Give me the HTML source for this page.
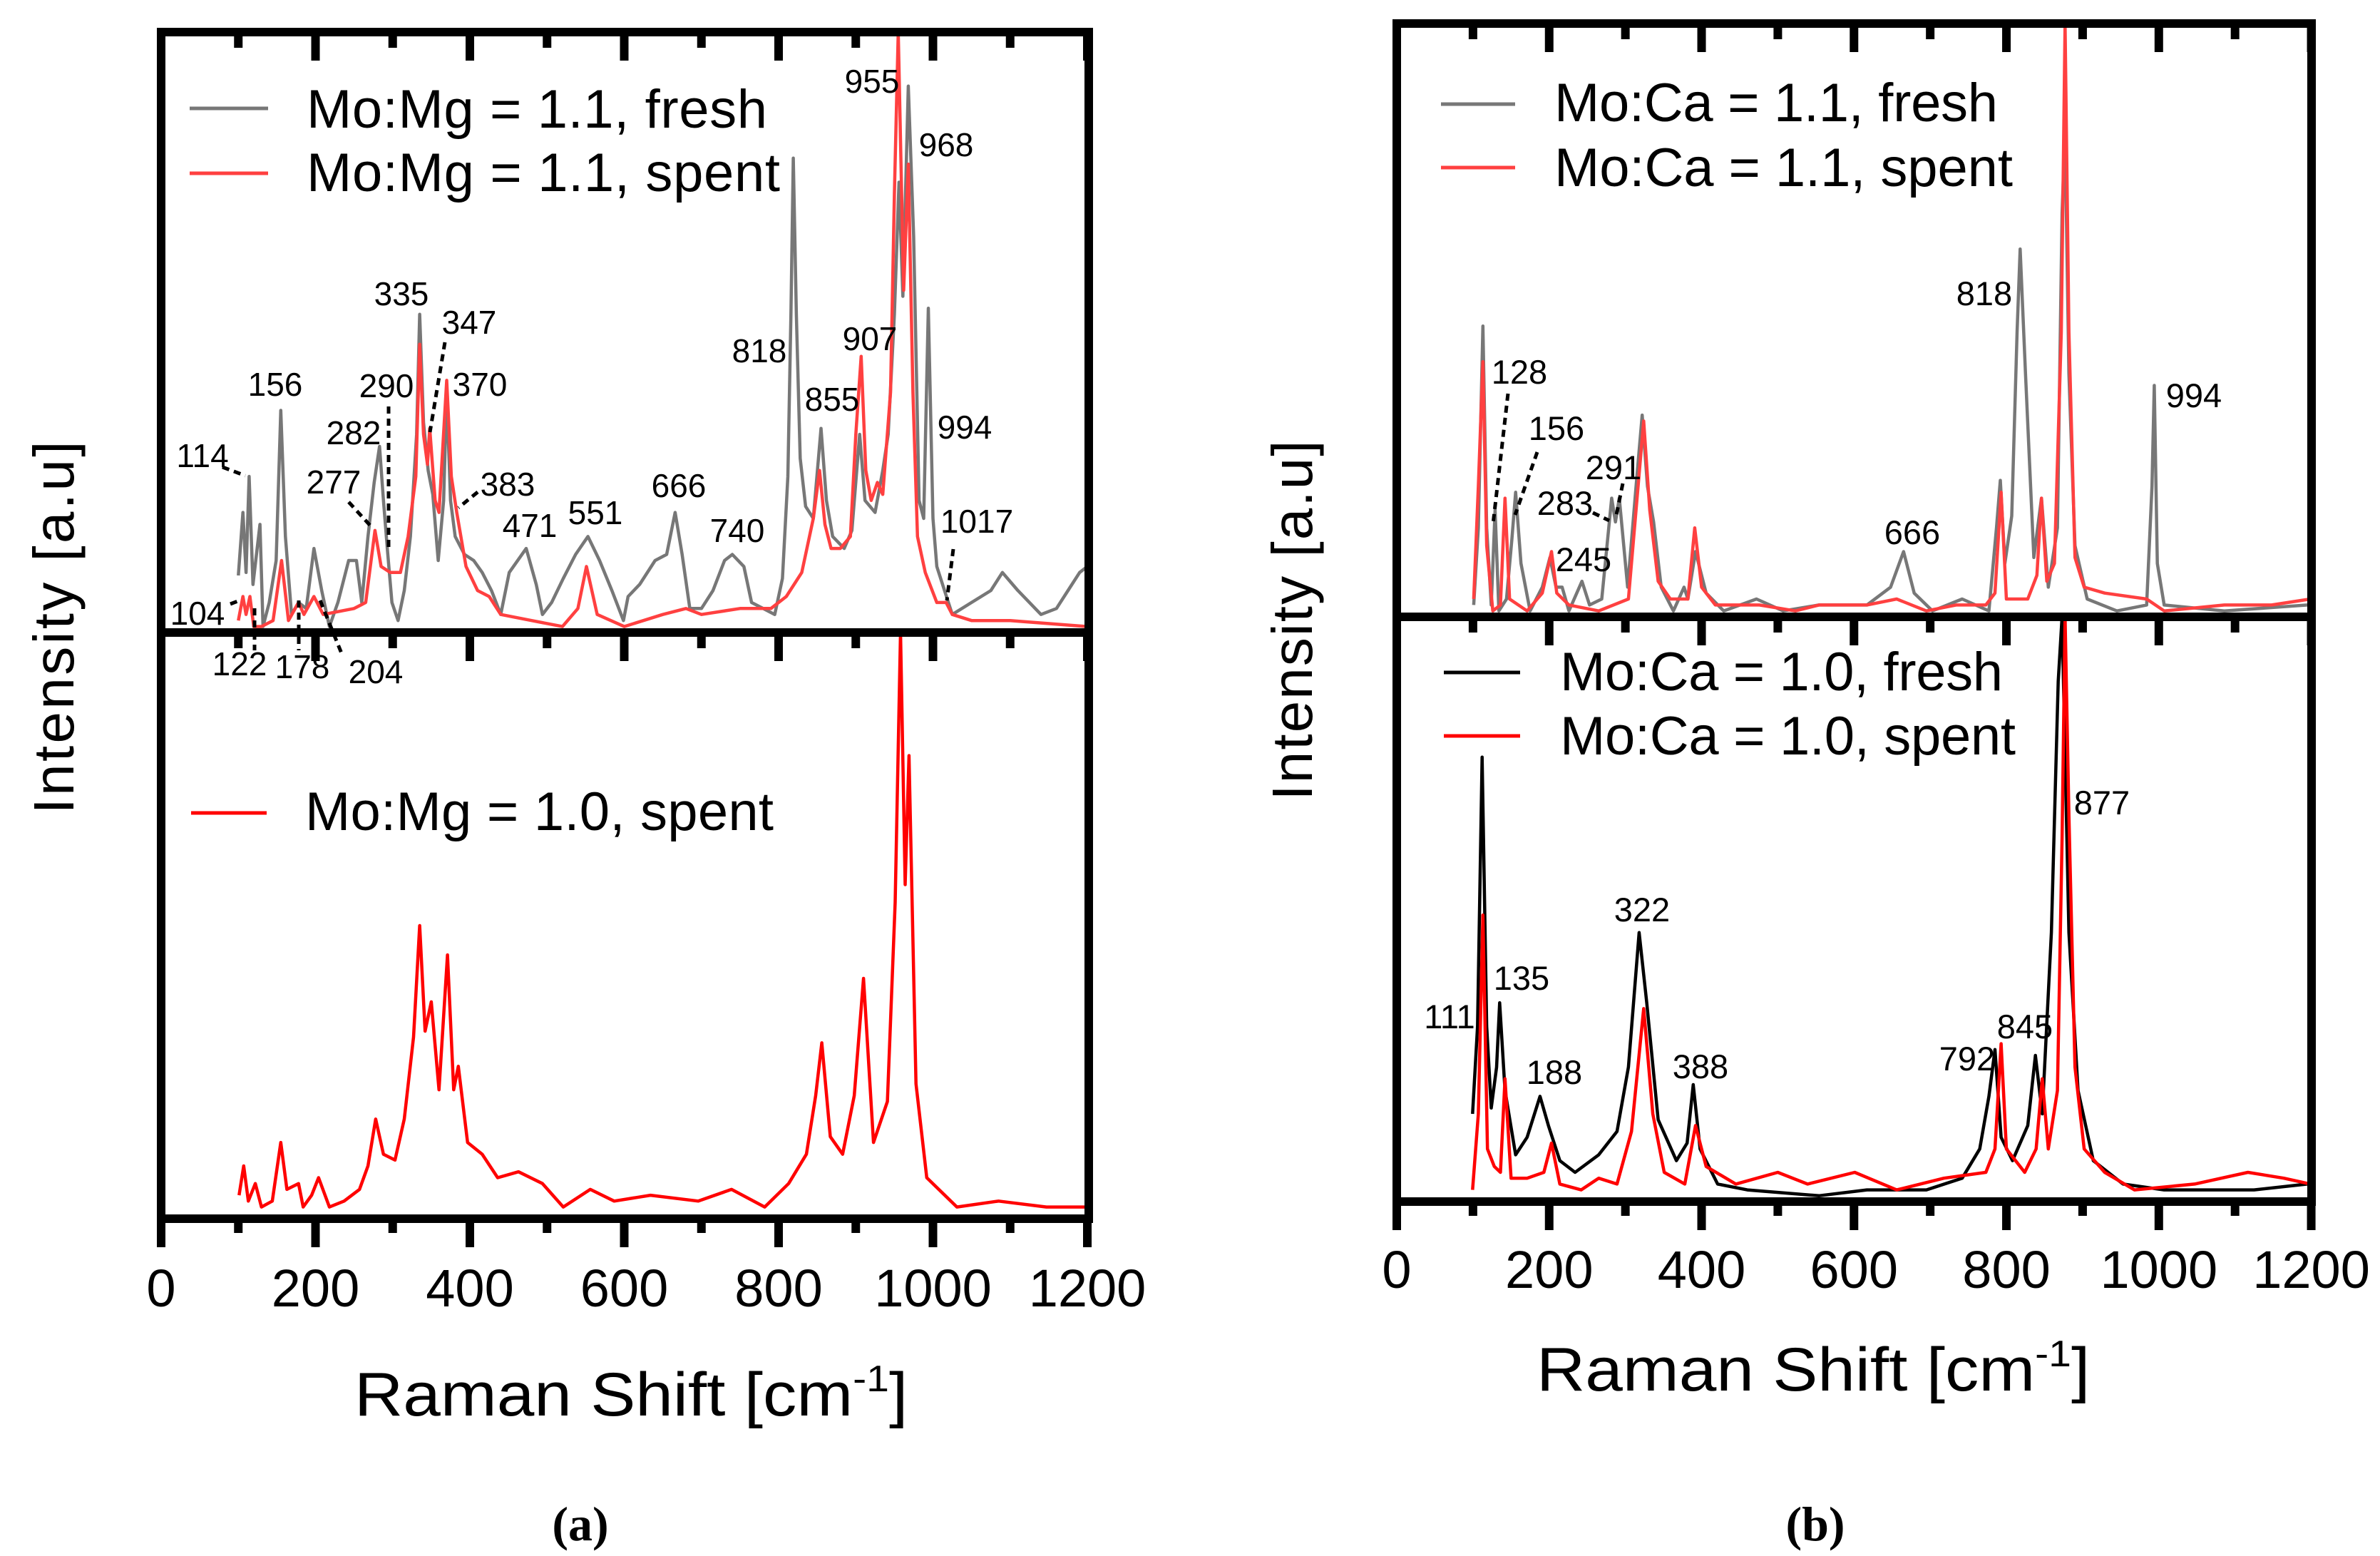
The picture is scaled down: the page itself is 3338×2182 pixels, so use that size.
<!DOCTYPE html>
<html><head><meta charset="utf-8"><style>
html,body{margin:0;padding:0;background:#fff;}
svg{display:block;}
text{font-family:"Liberation Sans",Arial,sans-serif;fill:#000;}
</style></head><body>
<svg id="fig" xmlns="http://www.w3.org/2000/svg" width="3338" height="2182" viewBox="0 0 3338 2182">
<rect x="0" y="0" width="3338" height="2182" fill="#fff"/>
<g id="series-layer"></g>
<g id="axes-layer"></g>
<g id="annot-layer" font-size="46">
  <g stroke="#000" stroke-width="5" stroke-dasharray="10,7" fill="none">
    <line x1="312" y1="655" x2="344" y2="667"/>
    <line x1="323" y1="847" x2="336" y2="842"/>
    <line x1="357" y1="853" x2="357" y2="912"/>
    <line x1="419" y1="842" x2="419" y2="912"/>
    <line x1="449" y1="842" x2="479" y2="916"/>
    <line x1="489" y1="704" x2="523" y2="741"/>
    <line x1="545" y1="570" x2="545" y2="773"/>
    <line x1="624" y1="480" x2="603" y2="606"/>
    <line x1="670" y1="690" x2="643" y2="712"/>
    <line x1="1337" y1="770" x2="1328" y2="842"/>
    <line x1="2115" y1="552" x2="2094" y2="735"/>
    <line x1="2156" y1="634" x2="2125" y2="722"/>
    <line x1="2234" y1="719" x2="2257" y2="730"/>
    <line x1="2276" y1="678" x2="2267" y2="722"/>
  </g>
  <g text-anchor="middle">
    <text x="284" y="655">114</text>
    <text x="386" y="555">156</text>
    <text x="496" y="623">282</text>
    <text x="468" y="692">277</text>
    <text x="542" y="557">290</text>
    <text x="563" y="428">335</text>
    <text x="658" y="468">347</text>
    <text x="673" y="555">370</text>
    <text x="712" y="695">383</text>
    <text x="743" y="753">471</text>
    <text x="835" y="735">551</text>
    <text x="277" y="876">104</text>
    <text x="336" y="947">122</text>
    <text x="424" y="951">178</text>
    <text x="527" y="958">204</text>
    <text x="1223" y="130">955</text>
    <text x="1327" y="219">968</text>
    <text x="1065" y="508">818</text>
    <text x="1220" y="491">907</text>
    <text x="1167" y="576">855</text>
    <text x="1353" y="615">994</text>
    <text x="952" y="697">666</text>
    <text x="1034" y="760">740</text>
    <text x="1370" y="747">1017</text>
  </g>
  <g text-anchor="middle" font-size="47">
    <text x="2131" y="538">128</text>
    <text x="2183" y="617">156</text>
    <text x="2263" y="672">291</text>
    <text x="2195" y="722">283</text>
    <text x="2221" y="801">245</text>
    <text x="2682" y="763">666</text>
    <text x="2783" y="428">818</text>
    <text x="3077" y="571">994</text>
    <text x="2033" y="1442">111</text>
    <text x="2134" y="1388">135</text>
    <text x="2180" y="1520">188</text>
    <text x="2303" y="1292">322</text>
    <text x="2385" y="1512">388</text>
    <text x="2759" y="1501">792</text>
    <text x="2840" y="1456">845</text>
    <text x="2948" y="1142">877</text>
  </g>
</g>
<g font-size="76">
  <line x1="266" y1="152" x2="376" y2="152" stroke="#777" stroke-width="5"/>
  <text x="430" y="179" textLength="646">Mo:Mg = 1.1, fresh</text>
  <line x1="266" y1="243" x2="376" y2="243" stroke="#ff4040" stroke-width="5"/>
  <text x="430" y="268" textLength="664">Mo:Mg = 1.1, spent</text>
</g>
<g font-size="76">
  <line x1="268" y1="1140" x2="374" y2="1140" stroke="#ff0000" stroke-width="5"/>
  <text x="428" y="1164" textLength="657">Mo:Mg = 1.0, spent</text>
</g>
<g font-size="76">
  <line x1="2021" y1="146" x2="2125" y2="146" stroke="#777" stroke-width="5"/>
  <text x="2180" y="170" textLength="622">Mo:Ca = 1.1, fresh</text>
  <line x1="2021" y1="235" x2="2125" y2="235" stroke="#ff4040" stroke-width="5"/>
  <text x="2180" y="261" textLength="643">Mo:Ca = 1.1, spent</text>
</g>
<g font-size="76">
  <line x1="2025" y1="943" x2="2132" y2="943" stroke="#000" stroke-width="5"/>
  <text x="2188" y="968" textLength="621">Mo:Ca = 1.0, fresh</text>
  <line x1="2025" y1="1032" x2="2132" y2="1032" stroke="#ff0000" stroke-width="5"/>
  <text x="2188" y="1058" textLength="639">Mo:Ca = 1.0, spent</text>
</g>
<text transform="translate(103,880) rotate(-90)" text-anchor="middle" font-size="80" textLength="523">Intensity [a.u]</text>
<text transform="translate(1840,870) rotate(-90)" text-anchor="middle" font-size="80" textLength="505">Intensity [a.u]</text>
<g transform="translate(497,1985) scale(1.1,1)">
  <text x="0" y="0" font-size="86">Raman Shift [cm<tspan font-size="52" dy="-34">-1</tspan><tspan dy="34">]</tspan></text>
</g>
<g transform="translate(2155,1950) scale(1.1,1)">
  <text x="0" y="0" font-size="86">Raman Shift [cm<tspan font-size="52" dy="-34">-1</tspan><tspan dy="34">]</tspan></text>
</g>
<text x="814" y="2160" text-anchor="middle" font-size="68" font-weight="bold" style="font-family:'Liberation Serif',serif">(a)</text>
<text x="2546" y="2160" text-anchor="middle" font-size="68" font-weight="bold" style="font-family:'Liberation Serif',serif">(b)</text>
</svg>
<script>
// ---- data (Raman shift in cm-1, intensity in % of sub-panel height) ----
const xTicks = [0, 200, 400, 600, 800, 1000, 1200];
const xTickLabels = ["0", "200", "400", "600", "800", "1000", "1200"];
const xMinorTicks = [100, 300, 500, 700, 900, 1100];

const mg11FreshX = [100,106,110,114,119,128,132,140,149,155,161,169,178,188,198,208,218,229,243,253,260,268,276,283,288,293,299,307,315,323,331,335,340,346,352,359,366,370,375,381,393,405,416,428,440,451,473,486,494,506,521,537,553,568,584,599,605,620,640,655,666,675,685,700,715,730,740,755,765,780,795,805,812,816,819,823,828,835,845,855,862,870,885,895,905,912,925,935,942,950,956,961,968,975,982,988,994,1000,1005,1015,1025,1050,1075,1090,1110,1140,1160,1175,1190,1200];
const mg11FreshY = [9.5,20,10,26,8,18,1,5,12,37,16,3,5,4,14,7,1,5,12,12,5,16,25,31,22,14,5,2,7,16,33,53,35,27,23,12,22,40,22,16,13,12,10,7,3,10,14,8,3,5,9,13,16,12,7,2,6,8,12,13,20,13,4,4,7,12,13,11,5,4,3,9,26,53,79,53,29,21,19,34,22,16,14,17,33,22,20,27,33,53,75,56,91,66,22,19,54,19,11,7,3,5,7,10,7,3,4,7,10,11];

const mg11SpentX = [100,106,110,115,120,130,145,156,165,178,185,198,210,250,265,277,285,297,310,320,330,335,340,345,348,355,360,370,376,383,395,410,425,440,480,520,540,551,565,600,650,680,700,750,790,810,830,845,853,860,868,880,893,900,907,913,920,928,935,945,950,955,962,968,974,980,990,1005,1017,1025,1050,1100,1200];
const mg11SpentY = [2,6,3,6,1,1,2,12,2,5,3,6,3,4,5,17,11,10,10,16,26,48,33,28,34,22,20,42,26,20,11,7,6,3,2,1,4,11,3,1,3,4,3,4,4,6,10,19,27,18,14,14,16,33,46,27,22,25,23,40,73,100,57,78,40,16,10,5,5,3,2,2,1];

const mg10SpentX = [101,107,113,122,130,144,155,163,178,184,195,204,218,237,257,268,278,288,303,315,327,335,342,350,360,371,379,385,397,416,436,463,494,521,556,587,634,696,739,782,813,836,848,856,867,883,898,910,923,941,951,958,964,969,978,992,1031,1085,1147,1200];
const mg10SpentY = [4,9,3,6,2,3,13,5,6,2,4,7,2,3,5,9,17,11,10,17,31,50,32,37,22,45,22,26,13,11,7,8,6,2,5,3,4,3,5,2,6,11,21,30,14,11,21,41,13,20,54,100,57,79,23,7,2,3,2,2];

const ca11FreshX = [101,107,113,118,124,129,134,144,151,156,163,175,191,201,209,217,226,243,253,269,282,287,292,303,314,322,329,337,347,363,377,382,392,406,429,472,507,554,617,648,665,679,703,742,777,787,792,798,807,814,818,825,836,846,855,867,873,877,882,890,906,945,984,991,994,998,1007,1086,1195];
const ca11FreshY = [2,15,49,15,2,18,1,3,13,21,9,1,5,10,5,5,1,6,2,3,20,16,20,5,22,34,22,16,5,1,5,3,11,4,1,3,1,2,2,5,11,4,1,3,1,15,23,9,17,48,62,41,10,20,5,15,68,82,41,12,3,1,2,22,39,9,2,1,2];

const ca11SpentX = [101,107,113,118,126,136,142,148,171,191,203,210,226,265,304,314,324,332,343,359,382,391,400,418,476,523,554,617,656,695,734,773,785,793,800,828,840,846,853,863,872,877,882,890,902,929,984,1007,1086,1148,1199];
const ca11SpentY = [3,22,43,12,1,2,20,3,1,4,11,4,2,1,3,18,33,18,6,3,3,15,5,2,2,1,2,2,3,1,2,2,4,21,3,3,7,20,6,9,48,100,48,10,5,4,3,1,2,2,3];

const ca10FreshX = [99.5,106,112,118,124,131,135,142,156,171,188,199,214,234,265,289,304,318,328,343,367,381,389,398,421,460,554,617,695,742,765,777,785,793,808,828,838,847,859,868,873,882,894,914,953,1007,1125,1195];
const ca10FreshY = [15,30,76,30,16,23,34,19,8,11,18,13,7,5,8,12,23,46,34,14,7,10,20,9,3,2,1,2,2,4,9,18,26,11,7,13,25,15,46,89,100,46,19,7,3,2,2,3];

const ca10SpentX = [99.5,107,113,119,128,136,142,150,171,193,203,214,242,265,289,308,324,336,351,378,392,406,445,500,539,601,656,718,773,785,793,800,824,839,847,855,867,873,877,882,890,902,929,968,1047,1117,1164,1199];
const ca10SpentY = [2,15,49,9,6,5,21,4,4,5,10,3,2,4,3,12,33,15,5,3,13,6,3,5,3,5,2,4,5,9,27,9,5,9,21,9,19,62,100,66,23,9,5,2,3,5,4,3];

// ---- geometry ----
const NS = "http://www.w3.org/2000/svg";
const panels = {
  a: {x0: 226, x1: 1527, sx: 1.0825, top: 45, mid: 887, bot: 1709, tickLabelY: 1832},
  b: {x0: 1959, x1: 3242, sx: 1.0688, top: 33, mid: 865, bot: 1685, tickLabelY: 1806}
};
function xScale(p, v) { return p.x0 + v * p.sx; }
function yScale(top, bot, v) { return bot - (v / 100) * (bot - top); }

const seriesLayer = document.getElementById('series-layer');
const axesLayer = document.getElementById('axes-layer');

function drawSeries(name, p, top, bot, xs, ys, color) {
  const pts = [];
  for (let i = 0; i < xs.length; i++) {
    pts.push(xScale(p, xs[i]).toFixed(1) + ',' + yScale(top, bot, ys[i]).toFixed(1));
  }
  const pl = document.createElementNS(NS, 'polyline');
  pl.setAttribute('points', pts.join(' '));
  pl.setAttribute('fill', 'none');
  pl.setAttribute('stroke', color);
  pl.setAttribute('stroke-width', '4.5');
  pl.setAttribute('stroke-linejoin', 'round');
  
  
  seriesLayer.appendChild(pl);
}

const A = panels.a, B = panels.b;
drawSeries('series-mg11-fresh', A, A.top, A.mid, mg11FreshX, mg11FreshY, '#777777');
drawSeries('series-mg11-spent', A, A.top, A.mid, mg11SpentX, mg11SpentY, '#ff4040');
drawSeries('series-mg10-spent', A, A.mid, A.bot, mg10SpentX, mg10SpentY, '#ff0000');
drawSeries('series-ca11-fresh', B, B.top, B.mid, ca11FreshX, ca11FreshY, '#777777');
drawSeries('series-ca11-spent', B, B.top, B.mid, ca11SpentX, ca11SpentY, '#ff4040');
drawSeries('series-ca10-fresh', B, B.mid, B.bot, ca10FreshX, ca10FreshY, '#000000');
drawSeries('series-ca10-spent', B, B.mid, B.bot, ca10SpentX, ca10SpentY, '#ff0000');

function line(x1, y1, x2, y2, w, name) {
  const l = document.createElementNS(NS, 'line');
  l.setAttribute('x1', x1); l.setAttribute('y1', y1);
  l.setAttribute('x2', x2); l.setAttribute('y2', y2);
  l.setAttribute('stroke', '#000');
  l.setAttribute('stroke-width', w);
  
  
  axesLayer.appendChild(l);
}

function drawAxes(key) {
  const p = panels[key];
  const fr = document.createElementNS(NS, 'rect');
  fr.setAttribute('x', p.x0); fr.setAttribute('y', p.top);
  fr.setAttribute('width', p.x1 - p.x0); fr.setAttribute('height', p.bot - p.top);
  fr.setAttribute('fill', 'none'); fr.setAttribute('stroke', '#000'); fr.setAttribute('stroke-width', '12');
  
  
  axesLayer.appendChild(fr);
  line(p.x0, p.mid, p.x1, p.mid, 12, 'panel-divider-' + key);
  for (let i = 0; i < xTicks.length; i++) {
    const x = xScale(p, xTicks[i]);
    line(x, p.top, x, p.top + 40, 12, 'major-tick-top-' + key);
    line(x, p.mid, x, p.mid + 40, 12, 'major-tick-mid-' + key);
    line(x, p.bot, x, p.bot + 40, 12, 'major-tick-bottom-' + key);
    const t = document.createElementNS(NS, 'text');
    t.setAttribute('x', x); t.setAttribute('y', p.tickLabelY);
    t.setAttribute('text-anchor', 'middle');
    t.setAttribute('font-size', '74');
    t.textContent = xTickLabels[i];
    
    
    axesLayer.appendChild(t);
  }
  for (let i = 0; i < xMinorTicks.length; i++) {
    const x = xScale(p, xMinorTicks[i]);
    line(x, p.top, x, p.top + 22, 12, 'minor-tick-top-' + key);
    line(x, p.mid, x, p.mid + 22, 12, 'minor-tick-mid-' + key);
    line(x, p.bot, x, p.bot + 20, 12, 'minor-tick-bottom-' + key);
  }
}
drawAxes('a');
drawAxes('b');
</script>
</body></html>
